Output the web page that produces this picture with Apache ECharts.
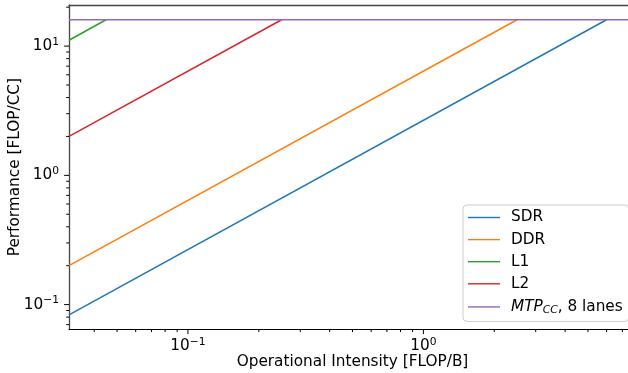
<!DOCTYPE html>
<html>
<head>
<meta charset="utf-8">
<script src="https://cdn.jsdelivr.net/npm/echarts@6/dist/echarts.min.js"></script>
<style>
html,body{margin:0;padding:0;background:#fff;}
#chart{width:628px;height:373px;}
</style>
</head>
<body>
<div id="chart"></div>
<script>
// ---- data ----
const seriesNames = ['SDR', 'DDR', 'L1', 'L2', 'MTP_CC, 8 lanes'];
const sdrIntensity = [0.03125, 6.0];
const sdrPerf      = [0.0833, 16];
const ddrIntensity = [0.03125, 2.5];
const ddrPerf      = [0.2, 16];
const l1Intensity  = [0.03125, 0.0449];
const l1Perf       = [11.1, 16];
const l2Intensity  = [0.03125, 0.25];
const l2Perf       = [2.0, 16];
const mtpIntensity = [0.03125, 8];
const mtpPerf      = [16, 16];

const xRange = [0.03125, 8];
const yRange = [0.0644, 20.8];
const xMajorTicks = [0.1, 1];
const xMinorTicks = [0.04,0.05,0.06,0.07,0.08,0.09,0.2,0.3,0.4,0.5,0.6,0.7,0.8,0.9,2,3,4,5,6,7];
const yMajorTicks = [0.1, 1, 10];
const yMinorTicks = [0.07,0.08,0.09,0.2,0.3,0.4,0.5,0.6,0.7,0.8,0.9,2,3,4,5,6,7,8,9,20];

const colors = ['#1f77b4', '#ff7f0e', '#2ca02c', '#d62728', '#9467bd'];
const FONT = 'DejaVu Sans';
const FS = 15.3;

function pairs(xs, ys) { return xs.map((x, i) => [x, ys[i]]); }
const lineData = [
  pairs(sdrIntensity, sdrPerf),
  pairs(ddrIntensity, ddrPerf),
  pairs(l1Intensity, l1Perf),
  pairs(l2Intensity, l2Perf),
  pairs(mtpIntensity, mtpPerf)
];

function powLabel(v) {
  const e = Math.round(Math.log10(v));
  const s = e < 0 ? '\u2212' + (-e) : String(e);
  return '{b|10}{s|' + s + '}';
}
const powRich = {
  b: { fontFamily: FONT, fontSize: FS, color: '#000' },
  s: { fontFamily: FONT, fontSize: 10.7, color: '#000', padding: [0, 0, 8, 0] }
};

function tickSeries(values, dir, len) {
  return {
    type: 'custom',
    coordinateSystem: 'cartesian2d',
    xAxisIndex: 0, yAxisIndex: 0,
    clip: false, silent: true, z: 5,
    data: values.map(v => dir === 'x' ? [v, yRange[0]] : [xRange[0], v]),
    renderItem: function (params, api) {
      const p = api.coord([api.value(0), api.value(1)]);
      const shape = dir === 'x'
        ? { x1: p[0], y1: p[1], x2: p[0], y2: p[1] + len }
        : { x1: p[0], y1: p[1], x2: p[0] - len, y2: p[1] };
      return { type: 'line', shape: shape, style: { stroke: '#000', lineWidth: 1 } };
    }
  };
}

const LEGEND_LINE = 'path://M0,0 M32,14 M0,6.3 L32,6.3 L32,7.7 L0,7.7 Z';

const chart = echarts.init(document.getElementById('chart'), null, { renderer: 'canvas' });
const lineSeries = seriesNames.map((n, i) => ({
  name: n,
  type: 'line',
  data: lineData[i],
  symbol: 'none',
  lineStyle: { color: colors[i], width: 1.5 },
  itemStyle: { color: colors[i] },
  z: i === 4 ? 3 : 2
}));

chart.setOption({
  animation: false,
  backgroundColor: '#fff',
  grid: { left: 69, top: 5, width: 567, height: 324.3, show: false, containLabel: false, outerBoundsMode: 'none' },
  xAxis: [{
    type: 'log', logBase: 10, min: xRange[0], max: xRange[1],
    name: 'Operational Intensity [FLOP/B]',
    nameLocation: 'middle', nameGap: 25, nameMoveOverlap: false,
    nameTextStyle: { fontFamily: FONT, fontSize: FS, color: '#000' },
    axisLine: { show: true, lineStyle: { color: '#000', width: 1 } },
    axisTick: { show: false },
    splitLine: { show: false },
    axisLabel: { show: true, margin: 7, showMinLabel: false, showMaxLabel: false,
      formatter: powLabel, rich: powRich }
  }, {
    type: 'log', logBase: 10, min: xRange[0], max: xRange[1], position: 'top',
    axisLine: { show: true, lineStyle: { color: '#444', width: 1.3 } },
    axisTick: { show: false }, axisLabel: { show: false }, splitLine: { show: false }
  }],
  yAxis: [{
    type: 'log', logBase: 10, min: yRange[0], max: yRange[1],
    name: 'Performance [FLOP/CC]',
    nameLocation: 'middle', nameGap: 46, nameMoveOverlap: false,
    nameTextStyle: { fontFamily: FONT, fontSize: FS, color: '#000' },
    axisLine: { show: true, lineStyle: { color: '#444', width: 1.3 } },
    axisTick: { show: false },
    splitLine: { show: false },
    axisLabel: { show: true, margin: 10, showMinLabel: false, showMaxLabel: false,
      formatter: powLabel, rich: powRich }
  }],
  legend: {
    orient: 'vertical', left: 463, top: 205,
    data: seriesNames.map(n => ({ name: n, icon: LEGEND_LINE })),
    itemWidth: 32, itemHeight: 14, itemGap: 7.1,
    padding: [5, 6, 6, 5],
    borderColor: '#cccccc', borderWidth: 1, borderRadius: 4,
    backgroundColor: 'rgba(255,255,255,0.8)',
    textStyle: { fontFamily: FONT, fontSize: FS, lineHeight: 14, color: '#000', padding: [0, 0, 0, 6],
      rich: {
        i: { fontFamily: FONT, fontStyle: 'italic', fontSize: FS, lineHeight: 14, color: '#000' },
        sub: { fontFamily: FONT, fontStyle: 'italic', fontSize: 10.7, lineHeight: 10, color: '#000', padding: [6, 0, 0, 0] },
        n: { fontFamily: FONT, fontSize: FS, lineHeight: 14, color: '#000' }
      }
    },
    formatter: function (name) {
      if (name === 'MTP_CC, 8 lanes') return '{i|MTP}{sub|CC}{n|, 8 lanes}';
      return name;
    }
  },
  series: lineSeries.concat([
    tickSeries(xMajorTicks, 'x', 4.9),
    tickSeries(xMinorTicks, 'x', 2.8),
    tickSeries(yMajorTicks, 'y', 4.9),
    tickSeries(yMinorTicks, 'y', 2.8)
  ])
});
</script>
</body>
</html>
